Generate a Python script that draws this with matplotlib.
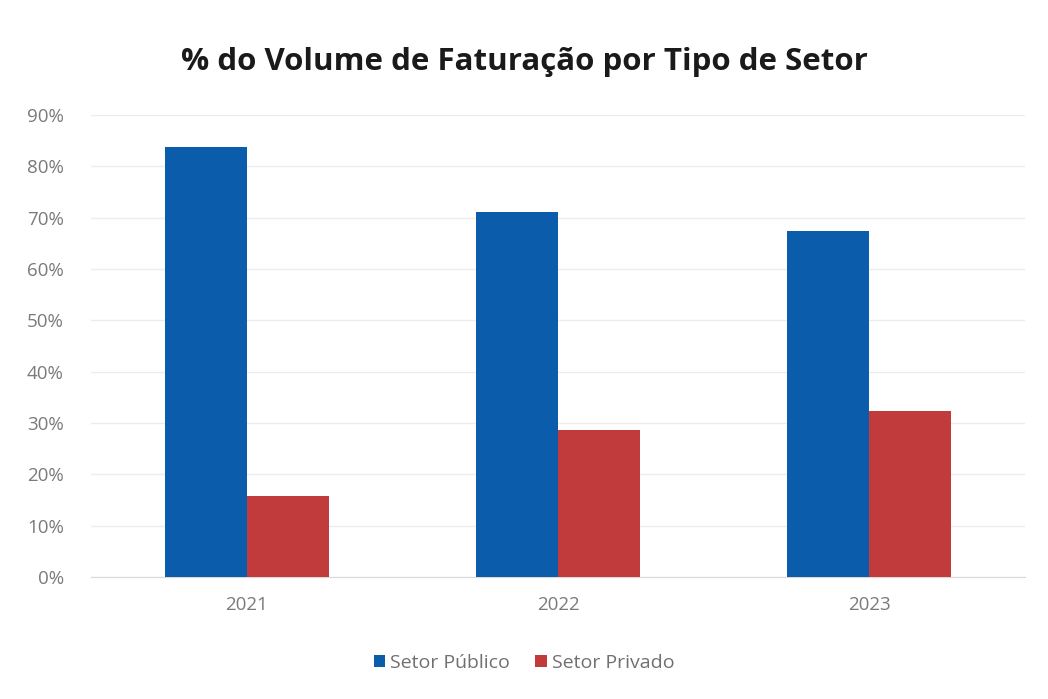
import matplotlib
matplotlib.use("Agg")
import matplotlib.pyplot as plt
import numpy as np
from matplotlib.ticker import FuncFormatter

years = ["2021", "2022", "2023"]
publico = [83.8, 71.1, 67.4]
privado = [15.8, 28.6, 32.3]
series_names = ["Setor Público", "Setor Privado"]
title = "% do Volume de Faturação por Tipo de Setor"

plt.rcParams['font.family'] = ['Open Sans', 'DejaVu Sans']

fig = plt.figure(figsize=(10.48, 6.99), dpi=100)
ax = fig.add_axes([0.0873, 0.1745, 0.8903, 0.661])

x = np.arange(len(years))
w = 0.263
ax.bar(x - w/2, publico, w, color="#0b5cab", label=series_names[0], zorder=3)
ax.bar(x + w/2, privado, w, color="#c13a3c", label=series_names[1], zorder=3)

ax.set_xlim(-0.5, 2.5)
ax.set_ylim(0, 90)
ax.set_yticks(np.arange(0, 91, 10))
ax.yaxis.set_major_formatter(FuncFormatter(lambda v, p: f"{int(v)}%"))
ax.set_xticks(x)
ax.set_xticklabels(years)
ax.grid(axis='y', color="#ececec", linewidth=1, zorder=0)
for s in ["top", "right", "left"]:
    ax.spines[s].set_visible(False)
ax.spines["bottom"].set_color("#d9d9d9")
ax.tick_params(axis='both', length=0, colors="#7a7a7a", labelsize=13.5)
ax.tick_params(axis='x', pad=14)
ax.tick_params(axis='y', pad=20)

fig.text(0.5, 0.912, title, ha='center', va='center', fontsize=22.5, fontweight='bold', color="#1a1a1a")

leg = fig.legend(loc='center', bbox_to_anchor=(0.5, 0.052), ncol=2, frameon=False,
                 fontsize=14, handlelength=0.6, handleheight=0.6, columnspacing=1.3, handletextpad=0.25)
for t in leg.get_texts():
    t.set_color("#707070")

fig.savefig("out.png", dpi=100)
